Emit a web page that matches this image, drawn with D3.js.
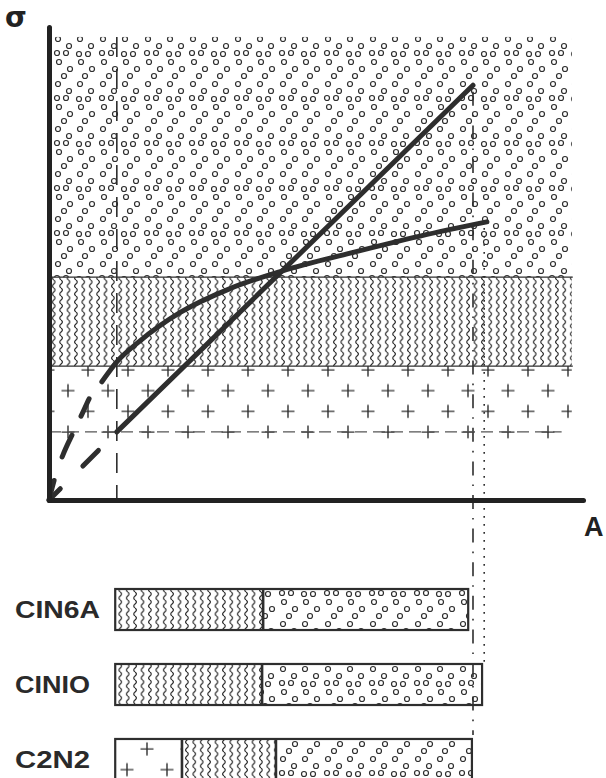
<!DOCTYPE html>
<html>
<head>
<meta charset="utf-8">
<script src="https://cdn.jsdelivr.net/npm/d3@7"></script>
<style>
  html, body { margin: 0; padding: 0; background: #fff; }
  svg { display: block; }
</style>
</head>
<body>
<div id="chart"></div>
<script>
(function () {
    'use strict';

    // zones of the sigma-A plane, bottom to top (sigma units)
    var ZONES = ['plus', 'wavy', 'circ'];
    var ZONE_LO = [13.0, 28.3, 47.1];
    var ZONE_HI = [28.3, 47.1, 97.9];
    var ZONE_A_MAX = 97.9;
    var ZONE_EDGES = [28.3, 47.1];

    // straight line through the origin (dashed below the first point)
    var LINE_A = [0, 12.7, 79.4];
    var LINE_S = [0, 14.4, 87.7];

    // curved line (dashed up to SOLID_FROM)
    var CURVE_A = [0, 1.1, 2.6, 4.5, 6.2, 7.7, 9.9, 12.7, 17.0, 24.5, 33.9, 43.6, 56.4, 69.5, 82.0];
    var CURVE_S = [0, 4.7, 9.5, 14.2, 18.2, 21.8, 25.0, 29.2, 33.6, 39.6, 44.7, 48.4, 52.2, 55.8, 58.8];
    var SOLID_FROM = 6;

    // guide lines: dashed, dash-dot, dotted
    var GUIDE_A = [12.7, 79.4, 81.5];
    var GUIDE_TOP = [97.9, 86.3, 57.5];
    var GUIDE_H_S = 14.4;
    var GUIDE_H_A = [0, 96.0];

    // bars below the plot
    var BARS = ['CIN6A', 'CINIO', 'C2N2'];
    var BAR_START = [12.4, 12.4, 12.4];
    var BAR_PLUS_END = [12.4, 12.4, 24.9];
    var BAR_WAVY_END = [40.1, 39.9, 42.5];
    var BAR_END = [78.5, 81.1, 79.2];

    var INK = '#2e2e2e';
    var W = 606, H = 778;

    var svg = d3.select('#chart').append('svg')
        .attr('width', W).attr('height', H)
        .style('background', '#fff');

    var x = d3.scaleLinear().domain([0, 100]).range([49, 583]);
    var y = d3.scaleLinear().domain([0, 100]).range([500, 27]);
    var yb = d3.scaleBand().domain(BARS).range([589, 780]).paddingInner(0.453).paddingOuter(0);

    // fill textures
    var defs = svg.append('defs');
    var CIRC_TILE = [[6, 4], [28, 4], [17, 11], [39, 11], [5, 18], [14, 18], [27, 19], [36, 19],
                     [7, 27], [29, 27], [18, 34], [40, 34], [12, 41], [33, 41]];
    var pc = defs.append('pattern').attr('id', 'pCirc').attr('patternUnits', 'userSpaceOnUse')
        .attr('width', 45).attr('height', 45).attr('x', 52).attr('y', 35);
    CIRC_TILE.forEach(function (c) {
        pc.append('circle').attr('cx', c[0]).attr('cy', c[1]).attr('r', 2.5)
            .attr('fill', 'none').attr('stroke', INK).attr('stroke-width', 1.2);
    });

    defs.append('pattern').attr('id', 'pWavy').attr('patternUnits', 'userSpaceOnUse')
        .attr('width', 7.4).attr('height', 8).attr('x', 50).attr('y', 0)
        .append('path')
        .attr('d', 'M3.7,0 C5.4,1.3 5.4,2.7 3.7,4 C2,5.3 2,6.7 3.7,8')
        .attr('fill', 'none').attr('stroke', '#222').attr('stroke-width', 1.15);

    function plusPattern(id, px, py) {
        var p = defs.append('pattern').attr('id', id).attr('patternUnits', 'userSpaceOnUse')
            .attr('width', 40).attr('height', 41.4).attr('x', px).attr('y', py);
        [[10, 10], [30, 30.7]].forEach(function (c) {
            p.append('path')
                .attr('d', 'M' + (c[0] - 6.5) + ',' + c[1] + 'H' + (c[0] + 6.5) +
                           'M' + c[0] + ',' + (c[1] - 6.5) + 'V' + (c[1] + 6.5))
                .attr('stroke', INK).attr('stroke-width', 1.4);
        });
    }
    plusPattern('pPlus', 78, 360);
    plusPattern('pPlusBar', 137, 739);

    var FILL = { plus: 'url(#pPlus)', wavy: 'url(#pWavy)', circ: 'url(#pCirc)' };

    // zones
    ZONES.forEach(function (z, i) {
        svg.append('rect')
            .attr('x', x(0)).attr('y', y(ZONE_HI[i]))
            .attr('width', x(ZONE_A_MAX) - x(0))
            .attr('height', y(ZONE_LO[i]) - y(ZONE_HI[i]))
            .attr('fill', FILL[z]);
    });
    ZONE_EDGES.forEach(function (s) {
        svg.append('line').attr('x1', x(0)).attr('x2', x(ZONE_A_MAX) + 1)
            .attr('y1', y(s)).attr('y2', y(s))
            .attr('stroke', INK).attr('stroke-width', 1.3);
    });

    // guide lines
    var GUIDE_DASH = ['20,12', '14,9,1.6,9', '1.6,6.4'];
    var GUIDE_BOTTOM = [y(0), yb('C2N2') - 4, yb('CINIO')];
    GUIDE_A.forEach(function (a, i) {
        svg.append('line').attr('x1', x(a)).attr('x2', x(a))
            .attr('y1', y(GUIDE_TOP[i])).attr('y2', GUIDE_BOTTOM[i])
            .attr('stroke', INK).attr('stroke-width', 1.6)
            .attr('stroke-dasharray', GUIDE_DASH[i]);
    });
    svg.append('line').attr('x1', x(GUIDE_H_A[0])).attr('x2', x(GUIDE_H_A[1]))
        .attr('y1', y(GUIDE_H_S)).attr('y2', y(GUIDE_H_S))
        .attr('stroke', '#555').attr('stroke-width', 1.2).attr('stroke-dasharray', '12,6');

    // straight line and curve
    var lineGen = d3.line()
        .x(function (d) { return x(d[0]); })
        .y(function (d) { return y(d[1]); });
    var curveGen = d3.line()
        .x(function (d) { return x(d[0]); })
        .y(function (d) { return y(d[1]); })
        .curve(d3.curveMonotoneX);

    var linePts = d3.zip(LINE_A, LINE_S);
    var curvePts = d3.zip(CURVE_A, CURVE_S);

    svg.append('path').datum(linePts.slice(0, 2)).attr('d', lineGen)
        .attr('fill', 'none').attr('stroke', INK).attr('stroke-width', 5)
        .attr('stroke-linecap', 'round').attr('stroke-dasharray', '16,32,22,60');
    svg.append('path').datum(linePts.slice(1)).attr('d', lineGen)
        .attr('fill', 'none').attr('stroke', INK).attr('stroke-width', 5)
        .attr('stroke-linecap', 'round');

    svg.append('path').datum(curvePts.slice(0, SOLID_FROM + 1)).attr('d', curveGen)
        .attr('fill', 'none').attr('stroke', INK).attr('stroke-width', 5)
        .attr('stroke-linecap', 'round').attr('stroke-dasharray', '20,25,24,21,19,60');
    svg.append('path').datum(curvePts.slice(SOLID_FROM)).attr('d', curveGen)
        .attr('fill', 'none').attr('stroke', INK).attr('stroke-width', 5)
        .attr('stroke-linecap', 'round');

    // axes (no ticks)
    var gx = svg.append('g').attr('transform', 'translate(0,' + y(0) + ')')
        .call(d3.axisBottom(x).tickValues([]).tickSizeOuter(0));
    var gy = svg.append('g').attr('transform', 'translate(' + x(0) + ',0)')
        .call(d3.axisLeft(y).tickValues([]).tickSizeOuter(0));
    [gx, gy].forEach(function (g) {
        g.select('.domain').attr('stroke', '#222').attr('stroke-width', 5)
            .attr('stroke-linecap', 'round');
    });

    svg.append('text').attr('x', 5).attr('y', 27)
        .attr('font-family', 'DejaVu Sans').attr('font-weight', 'bold')
        .attr('font-size', 28).attr('fill', '#222').text('σ');
    svg.append('text').attr('x', 584).attr('y', 536)
        .attr('font-family', 'Liberation Sans').attr('font-weight', 'bold')
        .attr('font-size', 27).attr('fill', '#222').text('A');

    // bars
    var bw = yb.bandwidth();
    var LABEL_W = [85, 75, 75];
    BARS.forEach(function (b, i) {
        var top = yb(b);
        var segs = [['plus', BAR_START[i], BAR_PLUS_END[i]],
                    ['wavy', BAR_PLUS_END[i], BAR_WAVY_END[i]],
                    ['circ', BAR_WAVY_END[i], BAR_END[i]]];
        segs.forEach(function (s) {
            if (s[2] <= s[1]) return;
            svg.append('rect').attr('x', x(s[1])).attr('y', top)
                .attr('width', x(s[2]) - x(s[1])).attr('height', bw)
                .attr('fill', s[0] === 'plus' ? 'url(#pPlusBar)' : FILL[s[0]]);
        });
        svg.append('rect').attr('x', x(BAR_START[i])).attr('y', top)
            .attr('width', x(BAR_END[i]) - x(BAR_START[i])).attr('height', bw)
            .attr('fill', 'none').attr('stroke', INK).attr('stroke-width', 2.2);
        [BAR_PLUS_END[i], BAR_WAVY_END[i]].forEach(function (a) {
            if (a <= BAR_START[i]) return;
            svg.append('line').attr('x1', x(a)).attr('x2', x(a))
                .attr('y1', top).attr('y2', top + bw)
                .attr('stroke', INK).attr('stroke-width', 2.6);
        });
        svg.append('text').attr('x', 15).attr('y', top + bw / 2 + 8.5)
            .attr('font-family', 'Liberation Sans').attr('font-weight', 'bold')
            .attr('font-size', 23).attr('fill', '#2a2a2a')
            .attr('textLength', LABEL_W[i]).attr('lengthAdjust', 'spacingAndGlyphs')
            .text(b);
    });
})();
</script>
</body>
</html>
